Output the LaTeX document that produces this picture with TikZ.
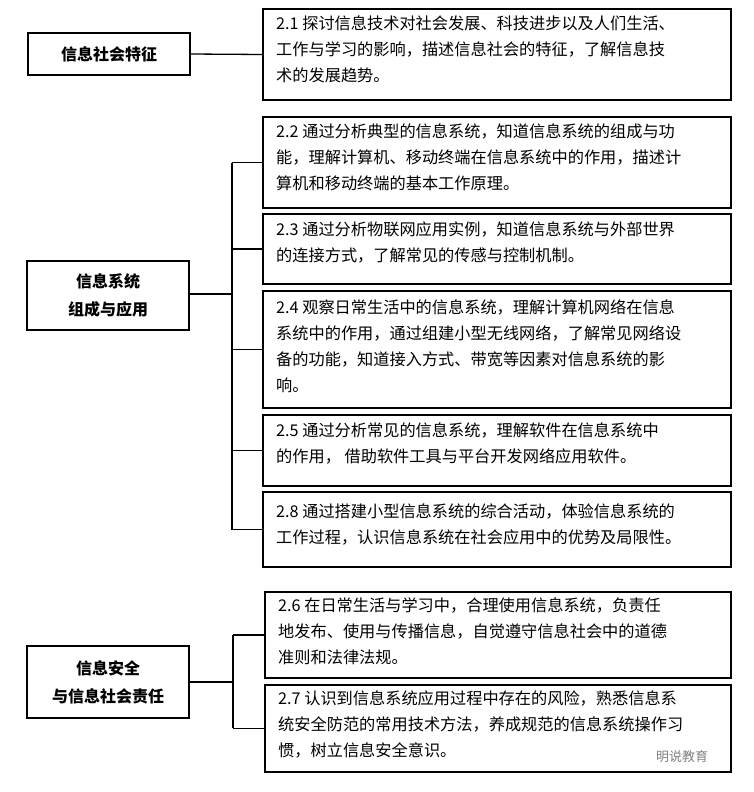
\documentclass[tikz,border=0pt]{standalone}
\usepackage{fontspec}
\setmainfont{Noto Sans CJK SC}
\begin{document}
\begin{tikzpicture}[x=1pt,y=-1pt,
  conn/.style={line width=1.3pt}]
\useasboundingbox (0,0) rectangle (753,792);
% left boxes
\draw[line width=1.3pt] (28,33) rectangle (190,75);
\node[font=\fontsize{16}{26}\selectfont\bfseries] (L1) at (109,54) {信息社会特征};
\draw[line width=1.3pt] (27,261) rectangle (189,330);
\node[font=\fontsize{16}{28}\selectfont\bfseries,align=center] (L2) at (108,295.5) {信息系统\\组成与应用};
\draw[line width=1.3pt] (27,646) rectangle (189,718);
\node[font=\fontsize{16}{28}\selectfont\bfseries,align=center] (L3) at (108,682) {信息安全\\与信息社会责任};
\coordinate (L1e) at (190,54); \coordinate (L2e) at (189,294); \coordinate (L3e) at (189,682);
% right boxes
\def\rb#1#2#3#4{\draw[line width=1.3pt] (#1,#2) rectangle (731,#3);
  \coordinate (#4) at (#1,{(#2+#3)/2});}
\rb{263}{9}{100}{R1}
\rb{263}{117}{208}{R2}
\rb{263}{214}{284}{R3}
\rb{263}{291}{408}{R4}
\rb{263}{415}{486}{R5}
\rb{263}{492}{567}{R8}
\rb{265}{592}{678}{R6}
\rb{265}{685}{772}{R7}
\tikzset{tx/.style={anchor=north west,font=\fontsize{16.2}{26}\selectfont,align=left,inner sep=0}}
\node[tx] (T1) at (276,16) {2.1 探讨信息技术对社会发展、科技进步以及人们生活、\\工作与学习的影响，描述信息社会的特征，了解信息技\\术的发展趋势。};
\node[tx] (T2) at (276,124) {2.2 通过分析典型的信息系统，知道信息系统的组成与功\\能，理解计算机、移动终端在信息系统中的作用，描述计\\算机和移动终端的基本工作原理。};
\node[tx] (T3) at (276,222) {2.3 通过分析物联网应用实例，知道信息系统与外部世界\\的连接方式，了解常见的传感与控制机制。};
\node[tx] (T4) at (276,299) {2.4 观察日常生活中的信息系统，理解计算机网络在信息\\系统中的作用，通过组建小型无线网络，了解常见网络设\\备的功能，知道接入方式、带宽等因素对信息系统的影\\响。};
\node[tx] (T5) at (276,423) {2.5 通过分析常见的信息系统，理解软件在信息系统中\\的作用，\ 借助软件工具与平台开发网络应用软件。};
\node[tx] (T8) at (276,504) {2.8 通过搭建小型信息系统的综合活动，体验信息系统的\\工作过程，认识信息系统在社会应用中的优势及局限性。};
\node[tx] (T6) at (278,598) {2.6 在日常生活与学习中，合理使用信息系统，负责任\\地发布、使用与传播信息，自觉遵守信息社会中的道德\\准则和法律法规。};
\node[tx] (T7) at (278,691) {2.7 认识到信息系统应用过程中存在的风险，熟悉信息系\\统安全防范的常用技术方法，养成规范的信息系统操作习\\惯，树立信息安全意识。};
\node[font=\fontsize{13}{14}\selectfont,text=gray] (W) at (682,757) {明说教育};
% connectors
\draw[conn] (L1e) -- (R1);
\coordinate (J2) at (232,294);
\draw[conn] (L2e) -- (J2);
\draw[conn] (232,163) -- (232,530);
\foreach \r in {R2,R3,R4,R5,R8} \draw[conn] (J2 |- \r) -- (\r);
\coordinate (J3) at (233,682);
\draw[conn] (L3e) -- (J3);
\draw[conn] (233,635) -- (233,728);
\foreach \r in {R6,R7} \draw[conn] (J3 |- \r) -- (\r);
\end{tikzpicture}
\end{document}
